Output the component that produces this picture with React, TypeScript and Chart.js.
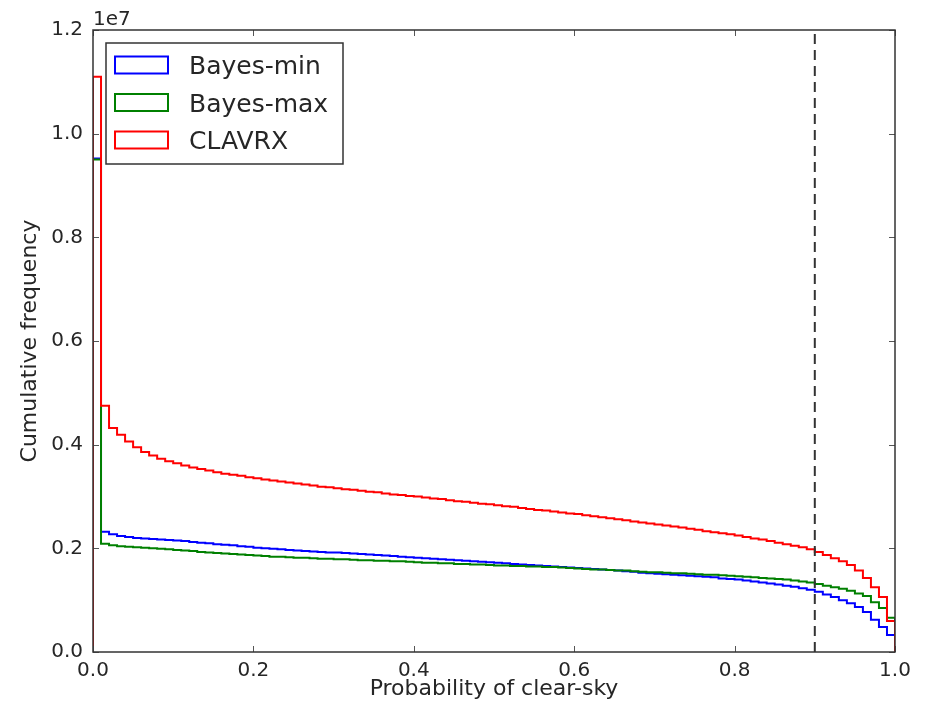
import React, { useEffect, useRef } from "react";
import { Chart, registerables } from "chart.js";

Chart.register(...registerables);

// ---- Data (values in millions, 100 histogram bins on [0, 1]) ----
const BIN_COUNT = 100;
const X_MIN = 0;
const X_MAX = 1;
const BIN_EDGES: number[] = Array.from({ length: BIN_COUNT }, (_, i) => X_MIN + ((X_MAX - X_MIN) * i) / BIN_COUNT);

const bayesMin: number[] = [
  9.52, 2.32, 2.27, 2.24, 2.22, 2.2, 2.19, 2.18, 2.17, 2.16,
  2.15, 2.14, 2.12, 2.11, 2.1, 2.08, 2.07, 2.06, 2.04, 2.03,
  2.01, 2.0, 1.99, 1.98, 1.97, 1.96, 1.95, 1.94, 1.93, 1.92,
  1.92, 1.91, 1.9, 1.89, 1.88, 1.87, 1.86, 1.85, 1.84, 1.83,
  1.82, 1.81, 1.8, 1.79, 1.78, 1.77, 1.76, 1.75, 1.74, 1.73,
  1.72, 1.71, 1.7, 1.69, 1.68, 1.67, 1.66, 1.65, 1.64, 1.63,
  1.62, 1.61, 1.6, 1.59, 1.58, 1.57, 1.56, 1.55, 1.53, 1.52,
  1.51, 1.5, 1.49, 1.48, 1.47, 1.46, 1.45, 1.44, 1.42, 1.41,
  1.4, 1.38, 1.36, 1.34, 1.32, 1.3, 1.28, 1.26, 1.23, 1.2,
  1.16, 1.11, 1.06, 1.0, 0.94, 0.87, 0.77, 0.62, 0.48, 0.33,
];

const bayesMax: number[] = [
  9.5, 2.09, 2.06, 2.04, 2.03, 2.02, 2.01, 2.0, 1.99, 1.98,
  1.97, 1.96, 1.95, 1.93, 1.92, 1.91, 1.9, 1.89, 1.88, 1.87,
  1.86, 1.85, 1.84, 1.84, 1.83, 1.82, 1.82, 1.81, 1.8, 1.8,
  1.79, 1.79, 1.78, 1.77, 1.77, 1.76, 1.76, 1.75, 1.75, 1.74,
  1.73, 1.72, 1.72, 1.71, 1.71, 1.7, 1.7, 1.69, 1.69, 1.68,
  1.67, 1.67, 1.66, 1.66, 1.65, 1.65, 1.64, 1.64, 1.63, 1.62,
  1.61, 1.6, 1.59, 1.59, 1.58, 1.57, 1.57, 1.56, 1.55, 1.54,
  1.54, 1.53, 1.52, 1.52, 1.51, 1.5, 1.49, 1.49, 1.48, 1.47,
  1.46, 1.45, 1.44, 1.43, 1.42, 1.41, 1.4, 1.38, 1.36, 1.34,
  1.31, 1.28, 1.25, 1.22, 1.18, 1.13, 1.08, 0.96, 0.85, 0.66,
];

const clavrx: number[] = [
  11.1, 4.75, 4.32, 4.19, 4.06, 3.95, 3.86, 3.79, 3.73, 3.68,
  3.64, 3.6, 3.56, 3.53, 3.5, 3.47, 3.44, 3.42, 3.4, 3.37,
  3.35, 3.33, 3.31, 3.29, 3.27, 3.25, 3.23, 3.21, 3.19, 3.18,
  3.16, 3.14, 3.13, 3.11, 3.09, 3.08, 3.06, 3.04, 3.03, 3.01,
  3.0, 2.98, 2.96, 2.95, 2.93, 2.91, 2.9, 2.88, 2.86, 2.85,
  2.83, 2.81, 2.8, 2.78, 2.76, 2.74, 2.73, 2.71, 2.69, 2.67,
  2.66, 2.64, 2.62, 2.6, 2.58, 2.56, 2.54, 2.52, 2.5, 2.48,
  2.46, 2.44, 2.42, 2.4, 2.38, 2.36, 2.33, 2.31, 2.29, 2.27,
  2.25, 2.22, 2.19, 2.17, 2.14, 2.11, 2.08, 2.05, 2.02, 1.98,
  1.93, 1.87, 1.81, 1.75, 1.68, 1.57, 1.43, 1.25, 1.06, 0.6,
];

const VALUE_UNIT = 1e6;
const SERIES_LABELS = ["Bayes-min", "Bayes-max", "CLAVRX"];
const SERIES_COLORS = ["#0000ff", "#008000", "#ff0000"];
const X_TICKS = [0, 0.2, 0.4, 0.6, 0.8, 1.0];
const Y_TICKS = [0, 0.2e7, 0.4e7, 0.6e7, 0.8e7, 1.0e7, 1.2e7];
const Y_MAX = 1.2e7;
const Y_EXPONENT = 1e7;
const Y_OFFSET_TEXT = "1e7";
const THRESHOLD_X = 0.9;
const X_TITLE = "Probability of clear-sky";
const Y_TITLE = "Cumulative frequency";

const FONT = "'DejaVu Sans', sans-serif";
const TEXT_COLOR = "#262626";

function stepPoints(values: number[]) {
  const pts: { x: number; y: number }[] = [{ x: X_MIN, y: 0 }];
  values.forEach((v, i) => pts.push({ x: BIN_EDGES[i], y: v * VALUE_UNIT }));
  pts.push({ x: X_MAX, y: values[values.length - 1] * VALUE_UNIT });
  pts.push({ x: X_MAX, y: 0 });
  return pts;
}

const framePlugin = {
  id: "framePlugin",
  afterDraw(chart: any) {
    const { ctx, chartArea } = chart;
    const { left, right, top, bottom } = chartArea;
    const xs = chart.scales.x;
    const ys = chart.scales.y;
    ctx.save();
    // tick marks (inward, all four sides)
    ctx.strokeStyle = "#555";
    ctx.lineWidth = 1;
    const tl = 6;
    X_TICKS.forEach((t) => {
      const px = Math.round(xs.getPixelForValue(t)) + 0.5;
      ctx.beginPath();
      ctx.moveTo(px, bottom);
      ctx.lineTo(px, bottom - tl);
      ctx.moveTo(px, top);
      ctx.lineTo(px, top + tl);
      ctx.stroke();
    });
    Y_TICKS.forEach((t) => {
      const py = Math.round(ys.getPixelForValue(t)) + 0.5;
      ctx.beginPath();
      ctx.moveTo(left, py);
      ctx.lineTo(left + tl, py);
      ctx.moveTo(right, py);
      ctx.lineTo(right - tl, py);
      ctx.stroke();
    });
    // frame
    ctx.strokeStyle = "#333";
    ctx.lineWidth = 1.5;
    ctx.strokeRect(left, top, right - left, bottom - top);
    // offset text
    ctx.fillStyle = TEXT_COLOR;
    ctx.font = `20px ${FONT}`;
    ctx.textAlign = "left";
    ctx.textBaseline = "alphabetic";
    ctx.fillText(Y_OFFSET_TEXT, left, top - 5);

    // legend
    const bx = left + 13;
    const by = top + 13;
    const bw = 237;
    const bh = 121;
    ctx.fillStyle = "#ffffff";
    ctx.fillRect(bx, by, bw, bh);
    ctx.strokeStyle = "#333";
    ctx.lineWidth = 1.5;
    ctx.strokeRect(bx, by, bw, bh);
    ctx.font = `25px ${FONT}`;
    SERIES_LABELS.forEach((label, i) => {
      const cy = by + 22 + i * 37.5;
      ctx.strokeStyle = SERIES_COLORS[i];
      ctx.lineWidth = 2;
      ctx.strokeRect(bx + 9, cy - 8.5, 53, 17);
      ctx.fillStyle = TEXT_COLOR;
      ctx.fillText(label, bx + 83, cy + 9);
    });
    ctx.restore();
  },
};

export default function App() {
  const ref = useRef<HTMLCanvasElement | null>(null);

  useEffect(() => {
    if (!ref.current) return;
    const seriesData = [bayesMin, bayesMax, clavrx];
    const lineDatasets = seriesData.map((vals, i) => ({
      label: SERIES_LABELS[i],
      data: stepPoints(vals),
      borderColor: SERIES_COLORS[i],
      borderWidth: 2,
      pointRadius: 0,
      fill: false,
      stepped: "before" as const,
      tension: 0,
    }));
    const thresholdDataset = {
      label: "threshold",
      data: [
        { x: THRESHOLD_X, y: 0 },
        { x: THRESHOLD_X, y: Y_MAX },
      ],
      borderColor: "#333",
      borderWidth: 2,
      borderDash: [10, 6],
      pointRadius: 0,
      fill: false,
    };
    // index 0 is drawn on top in Chart.js
    const datasets = [thresholdDataset, lineDatasets[2], lineDatasets[1], lineDatasets[0]];

    const chart = new Chart(ref.current, {
      type: "line",
      data: { datasets },
      options: {
        animation: false,
        responsive: false,
        devicePixelRatio: 1,
        layout: { padding: { left: 0, right: 26, top: 22, bottom: 0 } },
        plugins: {
          legend: { display: false },
          tooltip: { enabled: false },
        },
        scales: {
          x: {
            type: "linear",
            min: X_MIN,
            max: X_MAX,
            grid: { display: false, drawTicks: false },
            border: { display: false },
            afterBuildTicks: (s: any) => {
              s.ticks = X_TICKS.map((v) => ({ value: v }));
            },
            afterFit: (s: any) => {
              s.height = 50;
            },
            ticks: {
              padding: 7,
              maxRotation: 0,
              color: TEXT_COLOR,
              font: { family: FONT, size: 20 },
              callback: (v: any) => Number(v).toFixed(1),
            },
            title: {
              display: true,
              text: X_TITLE,
              color: TEXT_COLOR,
              font: { family: FONT, size: 22 },
              padding: { top: -4, bottom: 0 },
            },
          },
          y: {
            type: "linear",
            min: 0,
            max: Y_MAX,
            grid: { display: false, drawTicks: false },
            border: { display: false },
            afterBuildTicks: (s: any) => {
              s.ticks = Y_TICKS.map((v) => ({ value: v }));
            },
            afterFit: (s: any) => {
              s.width = 85;
            },
            ticks: {
              padding: 10,
              color: TEXT_COLOR,
              font: { family: FONT, size: 20 },
              callback: (v: any) => (Number(v) / Y_EXPONENT).toFixed(1),
            },
            title: {
              display: true,
              text: Y_TITLE,
              color: TEXT_COLOR,
              font: { family: FONT, size: 22 },
              padding: { top: 9, bottom: 0 },
            },
          },
        },
      },
      plugins: [framePlugin],
    } as any);

    return () => chart.destroy();
  }, []);

  return (
    <div style={{ width: 913, height: 694 }}>
      <canvas ref={ref} width={913} height={694} style={{ display: "block" }} />
    </div>
  );
}
